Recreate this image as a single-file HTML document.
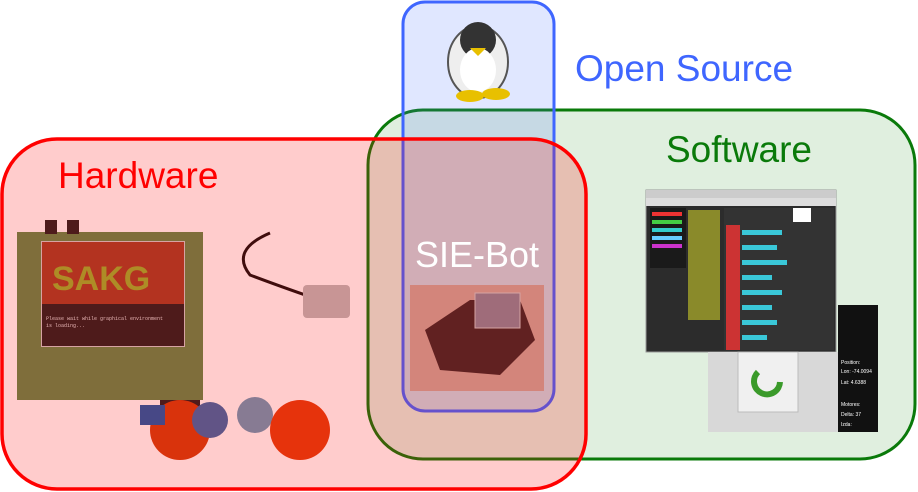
<!DOCTYPE html>
<html><head><style>html,body{margin:0;padding:0;background:#fff;}svg{display:block}</style></head>
<body>
<svg width="918" height="492" xmlns="http://www.w3.org/2000/svg" font-family="Liberation Sans, sans-serif">
<!-- green -->
<rect x="368" y="110" width="547" height="349" rx="55" fill="#e0efdf" stroke="#0a7a0a" stroke-width="3"/>
<!-- blue -->
<rect x="403" y="2" width="151" height="409" rx="22" fill="rgba(70,110,255,0.17)" stroke="#3f66ff" stroke-width="3"/>
<!-- penguin -->
<g>
<ellipse cx="478" cy="62" rx="30" ry="36" fill="#eee" stroke="#555" stroke-width="2"/>
<ellipse cx="478" cy="40" rx="18" ry="18" fill="#333"/>
<ellipse cx="478" cy="70" rx="18" ry="22" fill="#fff"/>
<ellipse cx="470" cy="96" rx="14" ry="6" fill="#e8c000"/>
<ellipse cx="496" cy="94" rx="14" ry="6" fill="#e8c000"/>
<path d="M470 48 L486 48 L478 56 Z" fill="#e8c000"/>
</g>
<!-- software screenshot -->
<rect x="646" y="190" width="190" height="162" fill="#2c2c2c" stroke="#999"/>
<rect x="646" y="190" width="190" height="8" fill="#ccc"/>
<rect x="646" y="198" width="190" height="8" fill="#ddd"/>
<rect x="650" y="208" width="36" height="60" fill="#1a1a1a"/>
<rect x="652" y="212" width="30" height="4" fill="#e33"/>
<rect x="652" y="220" width="30" height="4" fill="#4c4"/>
<rect x="652" y="228" width="30" height="4" fill="#3cc"/>
<rect x="652" y="236" width="30" height="4" fill="#6cf"/>
<rect x="652" y="244" width="30" height="4" fill="#c3c"/>
<rect x="688" y="210" width="32" height="110" fill="#8a8a2a"/>
<rect x="724" y="208" width="110" height="142" fill="#333"/>
<rect x="726" y="225" width="14" height="125" fill="#c33"/>
<g fill="#3ac8d8"><rect x="742" y="230" width="40" height="5"/><rect x="742" y="245" width="35" height="5"/><rect x="742" y="260" width="45" height="5"/><rect x="742" y="275" width="30" height="5"/><rect x="742" y="290" width="40" height="5"/><rect x="742" y="305" width="30" height="5"/><rect x="742" y="320" width="35" height="5"/><rect x="742" y="335" width="25" height="5"/></g>
<rect x="793" y="208" width="18" height="14" fill="#fff"/>
<!-- sim -->
<rect x="708" y="352" width="130" height="80" fill="#d8d8d8"/>
<rect x="838" y="305" width="40" height="127" fill="#111"/>
<rect x="738" y="352" width="60" height="60" fill="#f0f0f0" stroke="#bbb"/>
<path d="M758 372 A13 13 0 1 0 780 382" fill="none" stroke="#3a9a2a" stroke-width="6"/>
<g fill="#fff" font-size="5"><text x="841" y="364">Position:</text><text x="841" y="373">Lon: -74.0094</text><text x="841" y="384">Lat: 4.6388</text><text x="841" y="406">Motores:</text><text x="841" y="416">Delta: 37</text><text x="841" y="426">Izda:</text></g>
<!-- hardware images -->
<rect x="17" y="232" width="186" height="168" fill="#5f8a4a"/>
<rect x="42" y="242" width="142" height="104" fill="#8a6a4a" stroke="#ccc" stroke-width="2"/>
<rect x="42" y="242" width="142" height="62" fill="#a04028"/>
<text x="52" y="290" font-size="34" font-weight="bold" fill="#9ab030">SAKG</text>
<rect x="42" y="304" width="142" height="42" fill="#222"/>
<text x="46" y="320" font-size="5" fill="#ddd" font-family="Liberation Mono, monospace">Please wait while graphical environment</text>
<text x="46" y="327" font-size="5" fill="#ddd" font-family="Liberation Mono, monospace">is loading...</text>
<rect x="45" y="220" width="12" height="14" fill="#222"/><rect x="67" y="220" width="12" height="14" fill="#222"/>
<path d="M270 233 Q230 250 250 275 Q290 290 320 300" fill="none" stroke="#111" stroke-width="3"/>
<rect x="303" y="285" width="47" height="33" rx="4" fill="#bbb"/>
<rect x="160" y="400" width="40" height="50" fill="#222"/>
<circle cx="180" cy="430" r="30" fill="#d04010"/>
<circle cx="210" cy="420" r="18" fill="#3a6aa8"/>
<circle cx="255" cy="415" r="18" fill="#6a9ab8"/>
<circle cx="300" cy="430" r="30" fill="#e04010"/>
<rect x="140" y="405" width="25" height="20" fill="#1a5aa8"/>
<!-- robot -->
<rect x="410" y="285" width="134" height="106" fill="#c9a79a"/>
<path d="M425 330 L470 300 L520 300 L535 340 L500 375 L440 370 Z" fill="#3a2a2a"/>
<rect x="475" y="293" width="45" height="35" fill="#889" stroke="#ccc"/>
<!-- red -->
<rect x="2" y="139" width="584" height="350" rx="55" fill="rgba(255,0,0,0.2)" stroke="#ff0000" stroke-width="3.5"/>
<!-- labels -->
<text x="575" y="81" font-size="37" fill="#3f66ff">Open Source</text>
<text x="666" y="162" font-size="37" fill="#0a7a0a">Software</text>
<text x="58" y="188" font-size="37" fill="#ff0000">Hardware</text>
<text x="415" y="267" font-size="36" fill="#fff">SIE-Bot</text>
</svg>
</body></html>
